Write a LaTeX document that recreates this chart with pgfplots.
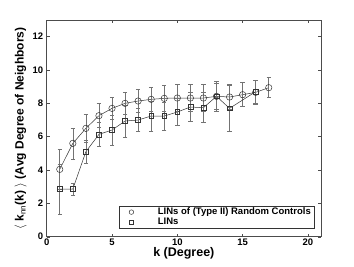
\documentclass[border=0pt]{standalone}
\usepackage{pgfplots}
\pgfplotsset{compat=1.18}
\usepackage{fontspec}
\setmainfont{Liberation Sans}
\begin{document}
\begin{tikzpicture}
\begin{axis}[
  at={(0,0)}, anchor=south west,
  scale only axis, width=274.3pt, height=216.7pt,
  xmin=0, xmax=21, ymin=0, ymax=13,
  xtick={0,5,10,15,20}, ytick={0,2,4,6,8,10,12},
  tick align=inside, tick pos=both,
  major tick length=3pt,
  axis line style={black!70, line width=0.6pt},
  every tick/.style={black!70},
  /pgf/number format/assume math mode=true,
  tick label style={font=\fontsize{9.5}{10}\selectfont\bfseries},
  xticklabel style={yshift=1pt},
  xlabel={\textbf{k (Degree)}},
  xlabel style={font=\fontsize{12.5}{14}\selectfont\bfseries, yshift=5pt},
  ylabel={\textbf{$\langle$ k$_{\mathrm{nn}}$(k) $\rangle$ (Avg Degree of Neighbors)}},
  ylabel style={font=\fontsize{12}{13}\selectfont\bfseries, yshift=-1pt},
  legend style={at={(0.9745,0.04)}, anchor=south east, draw=black!80,
    font=\fontsize{9.5}{10}\selectfont\bfseries, row sep=0pt, inner xsep=1.5pt, inner ysep=0.5pt,
    nodes={inner xsep=1.5pt, inner ysep=1pt}},
  legend cell align=left,
  error bars/error bar style={black!55, line width=0.6pt},
  error bars/error mark options={rotate=90, mark size=2.2pt, black!55, line width=0.6pt},
]
\addlegendimage{legend image code/.code={\draw[black!80, line width=0.5pt, fill=none] (11pt,0) circle (2.3pt); \path[draw=none, fill=none] (0,-1pt) rectangle (36pt,1pt);}}
\addlegendentry{LINs of (Type II) Random Controls}
\addlegendimage{legend image code/.code={\draw[black!80, line width=0.5pt, fill=none] (9pt,-2pt) rectangle (13pt,2pt); \path[draw=none, fill=none] (0,-1pt) rectangle (36pt,1pt);}}
\addlegendentry{LINs}
\addplot[forget plot, black!80, line width=0.5pt, mark=o, mark size=3.2pt, mark options={black!80, line width=0.5pt},
  error bars/.cd, y dir=both, y explicit]
coordinates {
(1,4.04) +- (0,1.2)
(2,5.6) +- (0,0.93)
(3,6.5) +- (0,0.85)
(4,7.26) +- (0,0.72)
(5,7.7) +- (0,0.66)
(6,8.0) +- (0,0.66)
(7,8.14) +- (0,0.7)
(8,8.24) +- (0,0.7)
(9,8.3) +- (0,0.76)
(10,8.32) +- (0,0.8)
(11,8.32) +- (0,0.8)
(12,8.32) +- (0,0.8)
(13,8.42) +- (0,0.9)
(14,8.38) +- (0,0.74)
(15,8.52) +- (0,0.72)
(16,8.66) +- (0,0.7)
(17,8.94) +- (0,0.6)
};
\addplot[forget plot, black!80, line width=0.5pt, mark=square, mark size=2.4pt, mark options={black!80, line width=0.5pt},
  error bars/.cd, y dir=both, y explicit]
coordinates {
(1,2.86) +- (0,1.5)
(2,2.86) +- (0,0.37)
(3,5.1) +- (0,0.7)
(4,6.14) +- (0,0.7)
(5,6.4) +- (0,0.9)
(6,6.94) +- (0,0.95)
(7,7.0) +- (0,0.7)
(8,7.24) +- (0,0.9)
(9,7.24) +- (0,0.85)
(10,7.48) +- (0,0.8)
(11,7.78) +- (0,0.88)
(12,7.74) +- (0,0.9)
(13,8.42) +- (0,0.8)
(14,7.7) +- (0,1.4)
(16,8.7) +- (0,0.7)
};
\end{axis}
\useasboundingbox (-46.7pt,-29.3pt) rectangle (307.3pt,236.7pt);
\end{tikzpicture}
\end{document}
